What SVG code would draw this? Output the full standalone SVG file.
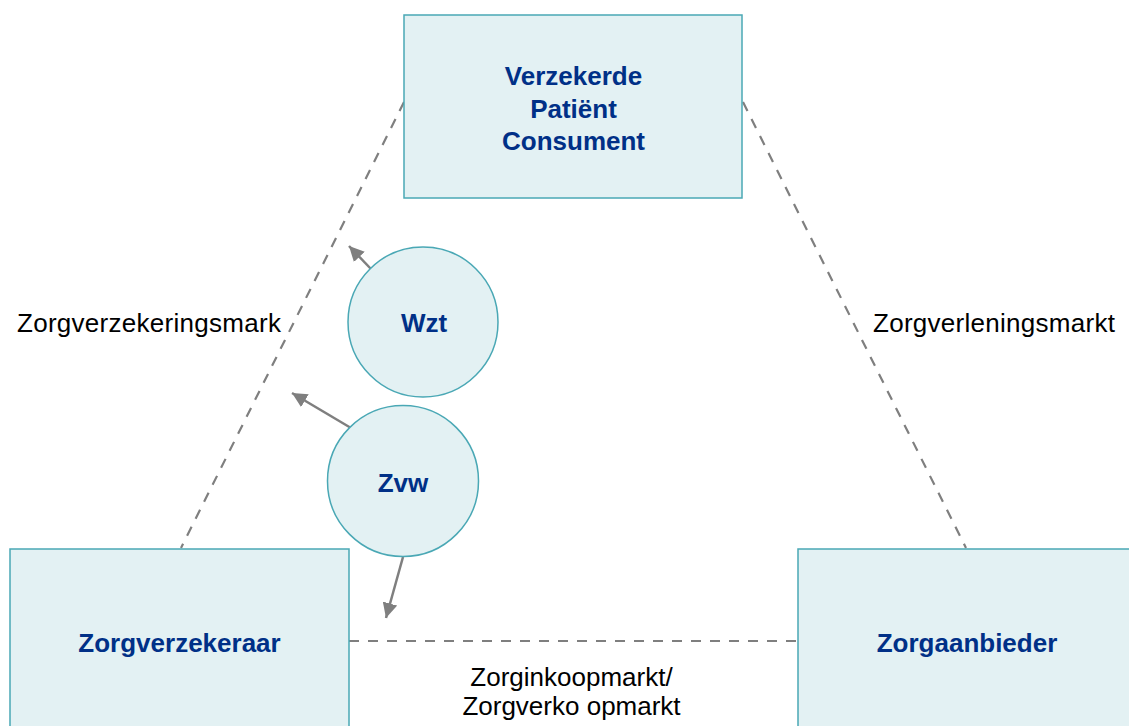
<svg xmlns="http://www.w3.org/2000/svg" width="1129" height="726" viewBox="0 0 1129 726">
<style>
.box{fill:#E3F1F3;stroke:#4AA8B5;stroke-width:1.5}
.lbl{font-family:"Liberation Sans",Arial,sans-serif;font-weight:bold;font-size:26px;fill:#003087;text-anchor:middle}
.mk{font-family:"Liberation Sans",Arial,sans-serif;font-size:26px;fill:#000}
.dash{stroke:#7F7F7F;stroke-width:2.2;stroke-dasharray:10 9;fill:none}
.arr{stroke:#7F7F7F;stroke-width:2.5;fill:none;marker-end:url(#ah)}
</style>
<defs>
<marker id="ah" markerUnits="userSpaceOnUse" markerWidth="17" markerHeight="15" refX="15" refY="7.5" orient="auto">
<path d="M0,0 L15,7.5 L0,15 Z" fill="#7F7F7F"/>
</marker>
</defs>
<rect width="1129" height="726" fill="#fff"/>
<g id="connectors">
<line class="dash" x1="404" y1="102" x2="181" y2="548"/>
<line class="dash" x1="743" y1="102" x2="966" y2="548"/>
<line class="dash" x1="349" y1="641" x2="798" y2="641"/>
<line class="arr" x1="371" y1="269" x2="349" y2="246"/>
<line class="arr" x1="351" y1="428" x2="292" y2="393"/>
<line class="arr" x1="403" y1="557" x2="386" y2="618"/>
</g>
<g id="patient">
<rect class="box" x="404" y="15" width="338" height="183"/>
<text class="lbl" x="573.5" y="85">Verzekerde</text>
<text class="lbl" x="573.5" y="118">Patiënt</text>
<text class="lbl" x="573.5" y="150">Consument</text>
</g>
<g id="zorgverzekeraar">
<rect class="box" x="10" y="549" width="339" height="190"/>
<text class="lbl" x="179.5" y="652">Zorgverzekeraar</text>
</g>
<g id="zorgaanbieder">
<rect class="box" x="798" y="549" width="340" height="190"/>
<text class="lbl" x="967" y="652">Zorgaanbieder</text>
</g>
<g id="wzt">
<circle class="box" cx="423" cy="322" r="75"/>
<text class="lbl" x="424" y="332">Wzt</text>
</g>
<g id="zvw">
<circle class="box" cx="403" cy="481" r="75.5"/>
<text class="lbl" x="403" y="492">Zvw</text>
</g>
<g id="labels">
<text class="mk" x="17" y="332" textLength="264">Zorgverzekeringsmark</text>
<text class="mk" x="873" y="332" textLength="242">Zorgverleningsmarkt</text>
<text class="mk" x="571.5" y="686" text-anchor="middle">Zorginkoopmarkt/</text>
<text class="mk" x="571.5" y="715" text-anchor="middle">Zorgverko opmarkt</text>
</g>
</svg>
